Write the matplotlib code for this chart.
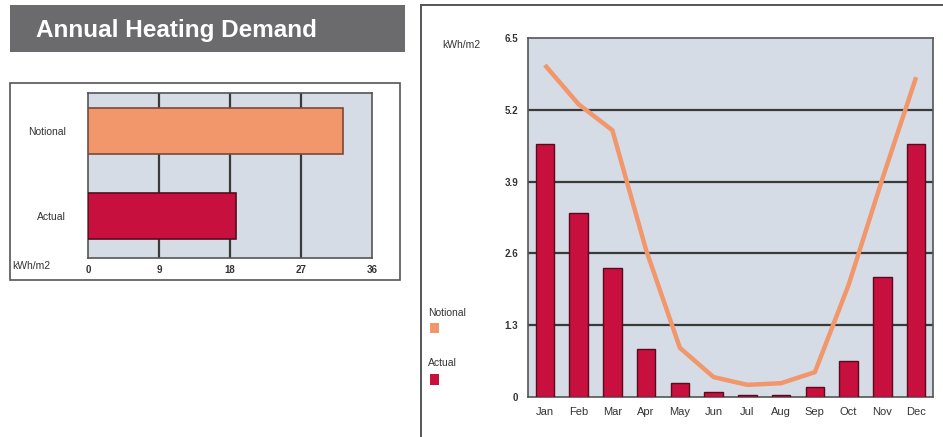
import numpy as np
import matplotlib.pyplot as plt
from matplotlib.patches import Rectangle
from matplotlib.lines import Line2D

# Annual totals (kWh/m2)
annual_labels = ["Actual", "Notional"]
annual_values = [18.8, 32.3]

# Monthly demand (kWh/m2)
months = ["Jan", "Feb", "Mar", "Apr", "May", "Jun",
          "Jul", "Aug", "Sep", "Oct", "Nov", "Dec"]
actual_monthly = [4.58, 3.33, 2.34, 0.87, 0.25, 0.09,
                  0.03, 0.03, 0.18, 0.65, 2.17, 4.58]
notional_monthly = [6.01, 5.30, 4.83, 2.66, 0.89, 0.36,
                    0.22, 0.25, 0.45, 2.03, 3.95, 5.79]

annual_ticks = [0, 9, 18, 27, 36]
monthly_ticks = [0, 1.3, 2.6, 3.9, 5.2, 6.5]

RED = "#c8103f"
RED_EDGE = "#5a0a1c"
ORANGE = "#f2966b"
PLOT_BG = "#d5dce5"
GRID = "#3a3a3a"
TEXT = "#333333"

W, H = 943, 437
fig = plt.figure(figsize=(W / 100, H / 100), dpi=100)
plt.rcParams['font.family'] = ['Liberation Sans', 'DejaVu Sans']


def px_axes(x0, y0, x1, y1):
    # axes placed by pixel box (top-left origin)
    return fig.add_axes([x0 / W, 1 - y1 / H, (x1 - x0) / W, (y1 - y0) / H])


def px_rect(x0, y0, x1, y1, **kw):
    fig.add_artist(Rectangle((x0 / W, 1 - y1 / H), (x1 - x0) / W, (y1 - y0) / H,
                             transform=fig.transFigure, **kw))


def px_text(x, y, s, **kw):
    fig.text(x / W, 1 - y / H, s, **kw)


# title bar
px_rect(10, 5, 405, 52, facecolor="#6b6b6e", edgecolor="none")
px_text(36, 30, "Annual Heating Demand", color="white", fontsize=17.5,
        fontweight="bold", va="center", ha="left")

# left panel frame, kept behind the axes
px_rect(10, 83, 400, 280, facecolor="none", edgecolor="#555555",
        linewidth=1.2, zorder=-1)

ax1 = px_axes(88, 93, 372, 258)
ax1.set_facecolor(PLOT_BG)
ax1.barh([0, 1], annual_values, height=0.55, color=[RED, ORANGE],
         edgecolor=[RED_EDGE, "#7a4a35"], linewidth=1.2, zorder=3)
ax1.set_xlim(0, 36)
ax1.set_ylim(-0.494, 1.447)
ax1.set_xticks(annual_ticks)
ax1.set_xticklabels([str(t) for t in annual_ticks], fontsize=7, color=TEXT,
                    fontweight="bold")
ax1.set_yticks([0, 1])
ax1.set_yticklabels(annual_labels, fontsize=7.5, color=TEXT)
ax1.tick_params(length=0, pad=5)
ax1.tick_params(axis="y", pad=16)
for t in annual_ticks[1:-1]:
    ax1.axvline(t, color=GRID, linewidth=1.6, zorder=2)
for s in ax1.spines.values():
    s.set_color("#555555")
    s.set_linewidth(1.2)
px_text(12, 266, "kWh/m2", fontsize=7.5, color=TEXT, va="center")

# right panel frame
fig.add_artist(Line2D([421 / W, 421 / W], [0, 1 - 5 / H],
                      transform=fig.transFigure, color="#555555", linewidth=1.4))
fig.add_artist(Line2D([421 / W, 1], [1 - 5 / H, 1 - 5 / H],
                      transform=fig.transFigure, color="#555555", linewidth=1.4))

ax2 = px_axes(528, 38, 933, 397)
ax2.set_facecolor(PLOT_BG)
x = np.arange(len(months))
ax2.bar(x, actual_monthly, width=0.55, color=RED, edgecolor=RED_EDGE,
        linewidth=1.0, zorder=3)
ax2.plot(x, notional_monthly, color=ORANGE, linewidth=3.2, zorder=4,
         solid_capstyle="butt")
ax2.set_xlim(-0.5, 11.5)
ax2.set_ylim(0, 6.5)
ax2.set_yticks(monthly_ticks)
ax2.set_yticklabels(["0", "1.3", "2.6", "3.9", "5.2", "6.5"], fontsize=7,
                    color=TEXT, fontweight="bold")
ax2.set_xticks(x)
ax2.set_xticklabels(months, fontsize=8, color=TEXT)
ax2.tick_params(length=0, pad=7)
for t in monthly_ticks[1:-1]:
    ax2.axhline(t, color=GRID, linewidth=1.6, zorder=2)
for s in ax2.spines.values():
    s.set_color("#555555")
    s.set_linewidth(1.2)
px_text(442, 45, "kWh/m2", fontsize=7.5, color=TEXT, va="center")

# legend on the left of the monthly chart
px_text(428, 313, "Notional", fontsize=7.5, color=TEXT, va="center")
px_rect(430, 323, 439, 333, facecolor=ORANGE, edgecolor="none")
px_text(428, 363, "Actual", fontsize=7.5, color=TEXT, va="center")
px_rect(430, 374, 439, 385, facecolor=RED, edgecolor="none")

fig.savefig("out.png", dpi=100, facecolor="white")
